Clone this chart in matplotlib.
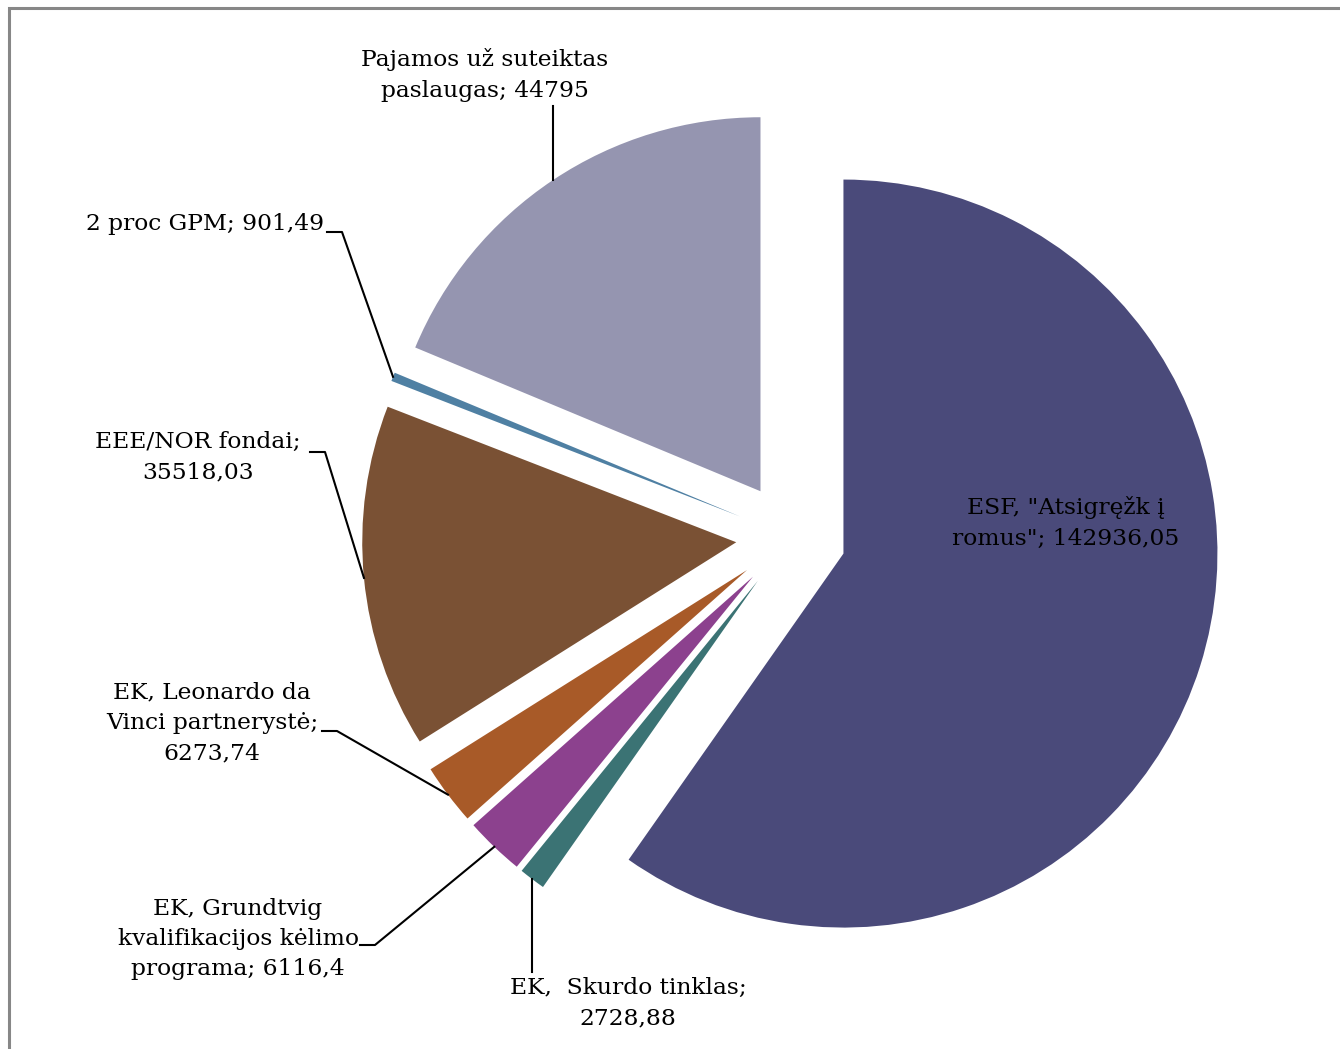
import numpy as np
from matplotlib import pyplot as plt
from matplotlib.patches import Rectangle

# chart data
labels = [
    'ESF, "Atsigręžk į\nromus"; 142936,05',
    'EK,  Skurdo tinklas;\n2728,88',
    'EK, Grundtvig\nkvalifikacijos kėlimo\nprograma; 6116,4',
    'EK, Leonardo da\nVinci partnerystė;\n6273,74',
    'EEE/NOR fondai;\n35518,03',
    '2 proc GPM; 901,49',
    'Pajamos už suteiktas\npaslaugas; 44795',
]
values = [142936.05, 2728.88, 6116.4, 6273.74, 35518.03, 901.49, 44795]
colors = ['#4a4a7a', '#3b7374', '#8c418e', '#a85a28', '#7a5134', '#4f80a3', '#9595b0']

W, H = 1340, 1049
CENTER = (791, H - 537)
RADIUS = 374
EXPLODE = 55

# label layout in pixel coords (x, y from top)
label_pos = [(1066, 523), (628, 1003), (238, 939), (212, 723), (198, 457), (205, 224), (485, 75)]
# leader: None, ('v', y_end) vertical line, ('e', x, y) elbow from label side
leaders = [None, ('v', 972), ('e', 360, 945), ('e', 322, 731), ('e', 310, 452), ('e', 327, 232), ('v', 106)]

plt.rcParams['font.family'] = ['DejaVu Serif']
fig = plt.figure(figsize=(W / 100, H / 100), dpi=100)
ax = fig.add_axes([0, 0, 1, 1])

wedges, _ = ax.pie(values, colors=colors, startangle=90, counterclock=False,
                   radius=RADIUS, center=CENTER, explode=[EXPLODE] * len(values),
                   wedgeprops=dict(linewidth=0))
ax.set_xlim(0, W)
ax.set_ylim(0, H)
ax.set_aspect('auto')
ax.axis('off')

for w, text, (lx, ly), ld in zip(wedges, labels, label_pos, leaders):
    ax.text(lx, H - ly, text, ha='center', va='center', fontsize=16.8,
            linespacing=1.48, color='black')
    if ld is None:
        continue
    theta = np.deg2rad((w.theta1 + w.theta2) / 2)
    cx, cy = w.center
    px = cx + w.r * np.cos(theta)
    py = cy + w.r * np.sin(theta)
    if ld[0] == 'v':
        ax.plot([px, px], [py, H - ld[1]], color='black', lw=1.5)
    else:
        ax.plot([ld[1], ld[1] + 15, px], [H - ld[2], H - ld[2], py], color='black', lw=1.5)

# chart area frame (cropped at right and bottom)
ax.add_patch(Rectangle((9, -20), W + 40, H - 8 + 20, fill=False, edgecolor='#878787', lw=2.2))

fig.savefig('out.png', dpi=100)
